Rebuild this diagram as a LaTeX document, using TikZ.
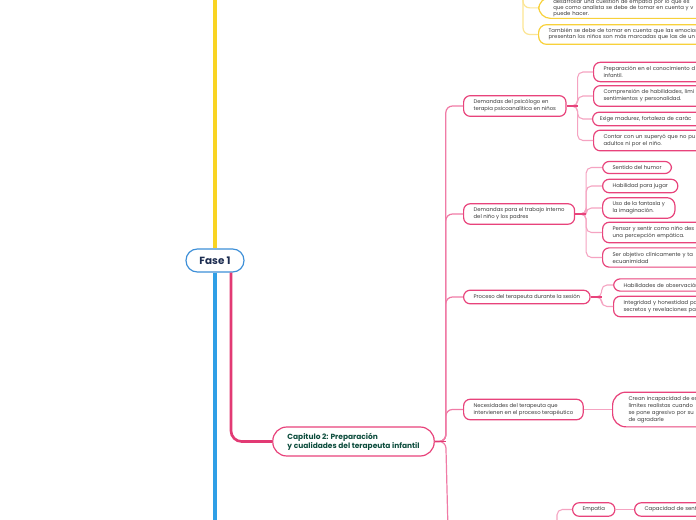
\documentclass[tikz,border=0pt]{standalone}
\usepackage{fontspec}
\setmainfont{Poppins}
\definecolor{pinkbd}{HTML}{E8437B}
\definecolor{pinklt}{HTML}{F5A3C1}
\definecolor{pinktr}{HTML}{F07BA6}
\definecolor{pinkmain}{HTML}{E23A74}
\definecolor{yelmain}{HTML}{F9D423}
\definecolor{yelbd}{HTML}{F8D13A}
\definecolor{yellt}{HTML}{FCE593}
\definecolor{bluemain}{HTML}{2F9FE6}
\definecolor{bluebd}{HTML}{3D8FD8}
\definecolor{txtgray}{HTML}{3C3C3C}
\definecolor{txtgreen}{HTML}{0D4D3D}
\definecolor{txtnavy}{HTML}{1C2C50}
\newcommand{\leaffont}{\fontsize{4}{5.3}\selectfont}

\begin{document}
\begin{tikzpicture}[x=0.75pt,y=-0.75pt,
  root/.style={draw=bluebd, line width=0.9pt, fill=white, rounded corners=8.5pt,
    minimum width=43.5pt, minimum height=17.25pt, text=txtnavy,
    font=\fontsize{7.8}{9}\selectfont\bfseries},
  chapter/.style={draw=pinkbd, line width=0.9pt, fill=white, rounded corners=10.5pt,
    minimum height=21.75pt, inner xsep=11pt, align=left, text=txtgreen,
    font=\fontsize{5.6}{6.9}\selectfont\bfseries},
  leaf/.style={draw=pinkbd, line width=0.9pt, fill=white, rounded corners=5pt,
    inner xsep=7.5pt, inner ysep=3pt, align=left, anchor=west, text=txtgray,
    font=\leaffont},
  yleaf/.style={leaf, draw=yelbd},
  cut/.style={text width=130pt},
  link/.style={draw=pinklt, line width=0.8pt, rounded corners=4pt},
  stub/.style={draw=pinkbd, line width=0.9pt},
  trunk/.style={draw=pinktr, line width=0.9pt, rounded corners=5pt},
  ylink/.style={draw=yellt, line width=0.9pt, rounded corners=5pt}]
  \useasboundingbox (0,0) rectangle (696,520);
  \clip (0,0) rectangle (696,520);
  \fill[white] (0,0) rectangle (696,520);

  % centre and chapter
  \node[root] (fase) at (215,260.5) {Fase 1};
  \node[chapter] (cap) at (353.5,441.5) {Capitulo 2: Preparación\\y cualidades del terapeuta infantil};
  \coordinate (ytop) at (215,-5);
  \coordinate (bbot) at (215,525);
  \draw[yelmain, line width=2.3pt] (fase.north) -- (ytop);
  \draw[bluemain, line width=2.3pt] (fase.south) -- (bbot);
  \draw[pinkmain, line width=2pt, rounded corners=8pt] (fase.south) ++(16,0) |- (cap.west);

  % yellow branch at the top
  \node[yleaf, cut, rounded corners=9pt, inner xsep=11pt, inner ysep=1.2pt, anchor=south west,
    font=\fontsize{4}{4.6}\selectfont] (desa) at (538,19)
    {desarrollar una cuestión de empatía por lo que es\\que como analista se debe de tomar en cuenta y v\\puede hacer.};
  \node[yleaf, cut, rounded corners=6pt, font=\fontsize{4}{4.6}\selectfont] (tamb) at (538,34.5)
    {También se debe de tomar en cuenta que las emocion\\presentan los niños son más marcadas que las de un};
  \coordinate (ypar) at (505,-30);
  \draw[ylink] (ypar) -- ++(18,0) |- (desa.west);
  \draw[ylink] (ypar) -- ++(18,0) |- (tamb.west);

  % topics of the chapter
  \node[leaf] (dema) at (463,106) {Demandas del psicólogo en\\terapia psicoanalítica en niños};
  \node[leaf] (demb) at (463,214) {Demandas para el trabajo interno\\del niño y los padres};
  \node[leaf] (proc) at (463,297) {Proceso del terapeuta durante la sesión};
  \node[leaf] (nece) at (463,409.5) {Necesidades del terapeuta que\\intervienen en el proceso terapéutico};
  \coordinate (tbot) at (448,530);
  \draw[trunk] (cap.east) -- ++(11,0) |- (dema.west);
  \draw[trunk] (cap.east) -- ++(11,0) |- (demb.west);
  \draw[trunk] (cap.east) -- ++(11,0) |- (proc.west);
  \draw[trunk] (cap.east) -- ++(11,0) |- (nece.west);
  \draw[trunk] (cap.east) -- ++(11,0) -- (tbot);
  \draw[pinkmain, line width=1.2pt] (cap.east) -- ++(11,0);

  % demandas del psicologo
  \node[leaf, cut] (prep) at (593,72) {Preparación en el conocimiento d\\infantil.};
  \node[leaf, cut] (comp) at (593,96) {Comprensión de habilidades, limi\\sentimientos y personalidad.};
  \node[leaf, cut, inner xsep=5.5pt] (madu) at (592,119) {Exige madurez, fortaleza de carác};
  \node[leaf, cut] (supe) at (593,140.5) {Contar con un superyó que no pu\\adultos ni por el niño.};
  \draw[link] (dema.east) -- ++(11,0) |- (prep.west);
  \draw[link] (dema.east) -- ++(11,0) |- (comp.west);
  \draw[link] (dema.east) -- ++(11,0) |- (madu.west);
  \draw[link] (dema.east) -- ++(11,0) |- (supe.west);
  \draw[stub] (dema.east) -- ++(11,0);

  % trabajo interno
  \node[leaf] (humo) at (602,167.5) {Sentido del humor};
  \node[leaf] (juga) at (602,186) {Habilidad para jugar};
  \node[leaf, rounded corners=6pt] (fant) at (602,208) {Uso de la fantasía y\\la imaginación.};
  \node[leaf, cut] (pens) at (602,232.5) {Pensar y sentir como niño des\\una percepción empática.};
  \node[leaf, cut] (obje) at (602,257.5) {Ser objetivo clínicamente y ta\\ecuanimidad};
  \draw[link] (demb.east) -- ++(11,0) |- (humo.west);
  \draw[link] (demb.east) -- ++(11,0) |- (juga.west);
  \draw[link] (demb.east) -- ++(11,0) |- (fant.west);
  \draw[link] (demb.east) -- ++(11,0) |- (pens.west);
  \draw[link] (demb.east) -- ++(11,0) |- (obje.west);
  \draw[stub] (demb.east) -- ++(11,0);

  % proceso
  \node[leaf, cut] (obse) at (613,285) {Habilidades de observación};
  \node[leaf, cut] (inte) at (613,306.5) {Integridad y honestidad pa\\secretos y revelaciones pa};
  \draw[link] (proc.east) -- ++(11,0) |- (obse.west);
  \draw[link] (proc.east) -- ++(11,0) |- (inte.west);
  \draw[stub] (proc.east) -- ++(11,0);

  % necesidades
  \node[leaf, cut, rounded corners=10pt, inner xsep=12pt] (inca) at (612,409.5)
    {Crean incapacidad de es\\límites realistas cuando\\se pone agresivo por su\\de agradarle};
  \draw[link] (nece.east) -- (inca.west);

  % bottom branch
  \node[leaf] (empa) at (572,509.5) {Empatía};
  \node[leaf, cut] (sent) at (634,509.5) {Capacidad de sentir};
  \coordinate (ebot) at (557,535);
  \draw[link] (ebot) |- (empa.west);
  \draw[link] (empa.east) -- (sent.west);
\end{tikzpicture}
\end{document}
